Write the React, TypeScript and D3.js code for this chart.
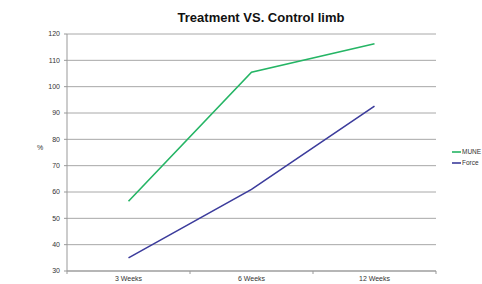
import React from "react";
import * as d3 from "d3";

const categories = ["3 Weeks", "6 Weeks", "12 Weeks"];
const muneValues = [56.5, 105.5, 116.3];
const forceValues = [35, 61, 92.6];
const yTicks = [30, 40, 50, 60, 70, 80, 90, 100, 110, 120];
const seriesNames = ["MUNE", "Force"];
const seriesColors = ["#25b565", "#3c3c9c"];

const W = 482;
const H = 284;
const margin = { top: 34, right: 46, bottom: 13, left: 67 };

export default function App() {
  const innerW = W - margin.left - margin.right;
  const innerH = H - margin.top - margin.bottom;

  const x = d3.scaleBand().domain(categories).range([0, innerW]);
  const y = d3.scaleLinear().domain([30, 120]).range([innerH, 0]);

  const line = d3
    .line<number>()
    .x((_, i) => (x(categories[i]) ?? 0) + x.bandwidth() / 2)
    .y((d) => y(d));

  const series = [muneValues, forceValues];
  const font = "Arial, 'Liberation Sans', sans-serif";

  return (
    <svg
      width={W}
      height={H}
      style={{ position: "absolute", left: 0, top: 0, background: "#fff" }}
      fontFamily={font}
    >
      <text x={261} y={22} textAnchor="middle" fontSize={13} fontWeight="bold" fill="#111">
        Treatment VS. Control limb
      </text>
      <g transform={`translate(${margin.left},${margin.top})`}>
        {/* grid */}
        {yTicks.map((t) => (
          <g key={t} transform={`translate(0,${y(t)})`}>
            <line x1={0} x2={innerW} stroke="#a8a8a8" strokeWidth={1} />
            <line x1={-3} x2={0} stroke="#999" />
            <text x={-7} dy="0.35em" textAnchor="end" fontSize={7} fill="#333">
              {t}
            </text>
          </g>
        ))}
        {/* axes */}
        <line x1={0} x2={0} y1={0} y2={innerH} stroke="#999" />
        <line x1={0} x2={innerW} y1={innerH} y2={innerH} stroke="#999" />
        {d3.range(categories.length + 1).map((i) => (
          <line
            key={i}
            x1={i * x.step()}
            x2={i * x.step()}
            y1={innerH}
            y2={innerH + 3}
            stroke="#999"
          />
        ))}
        {categories.map((c) => (
          <text
            key={c}
            x={(x(c) ?? 0) + x.bandwidth() / 2}
            y={innerH + 10}
            textAnchor="middle"
            fontSize={7}
            fill="#333"
          >
            {c}
          </text>
        ))}
        <text x={-27} y={y(76)} textAnchor="middle" fontSize={7} fill="#333">
          %
        </text>
        {series.map((s, i) => (
          <path
            key={i}
            d={line(s) ?? ""}
            fill="none"
            stroke={seriesColors[i]}
            strokeWidth={1.6}
          />
        ))}
      </g>
      {/* legend */}
      {seriesNames.map((n, i) => (
        <g key={n} transform={`translate(452,${152 + i * 11})`}>
          <line x1={0} x2={9} stroke={seriesColors[i]} strokeWidth={1.6} />
          <text x={10} dy="0.35em" fontSize={6.5} fill="#333">
            {n}
          </text>
        </g>
      ))}
    </svg>
  );
}
